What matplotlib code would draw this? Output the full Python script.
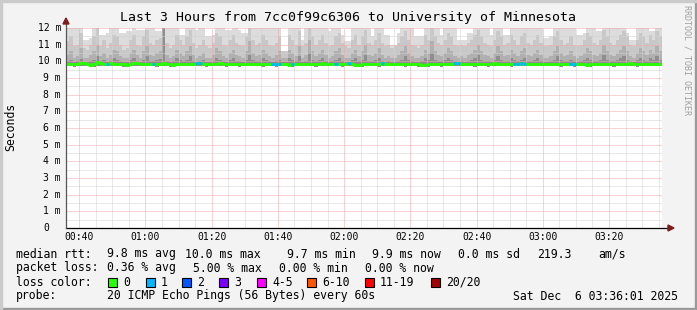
import matplotlib
matplotlib.use("Agg")
import matplotlib.pyplot as plt
import numpy as np
from matplotlib.patches import Rectangle, Polygon
from matplotlib.lines import Line2D

# ---------------- data ----------------
start_min = 36          # 00:36
n_cols = 180            # one column per minute
tick_minutes = [40, 60, 80, 100, 120, 140, 160, 180, 200]
tick_labels = ["00:40", "01:00", "01:20", "01:40", "02:00", "02:20", "02:40", "03:00", "03:20"]
y_values = list(range(0, 13))

median = [
 9.85,9.83,9.82,9.85,9.88,9.90,9.85,9.80,9.82,9.95,9.93,9.85,9.83,9.88,9.86,9.84,9.85,9.82,9.80,9.85,
 9.90,9.88,9.86,9.84,9.85,9.87,9.86,9.83,9.85,9.88,9.84,9.82,9.80,9.84,9.86,9.85,9.87,9.84,9.86,9.90,
 9.88,9.85,9.82,9.84,9.86,9.85,9.88,9.86,9.83,9.85,9.86,9.84,9.82,9.85,9.87,9.85,9.84,9.86,9.85,9.83,
 9.85,9.87,9.84,9.83,9.85,9.86,9.84,9.80,9.82,9.85,9.86,9.84,9.85,9.87,9.85,9.83,9.86,9.88,9.85,9.84,
 9.85,9.86,9.84,9.83,9.85,9.88,9.85,9.80,9.78,9.82,9.85,9.84,9.86,9.85,9.83,9.88,9.86,9.85,9.84,9.85,
 9.86,9.84,9.82,9.85,9.87,9.84,9.83,9.80,9.78,9.82,9.84,9.86,9.85,9.83,9.85,9.87,9.85,9.90,9.88,9.85,
 9.84,9.86,9.85,9.83,9.85,9.86,9.84,9.82,9.85,9.88,9.85,9.84,9.86,9.85,9.83,9.84,9.86,9.88,9.85,9.84,
 9.85,9.86,9.84,9.85,9.87,9.85,9.84,9.86,9.85,9.83,9.85,9.86,9.84,9.82,9.85,9.87,9.85,9.80,9.82,9.85,
 9.86,9.84,9.85,9.87,9.85,9.83,9.86,9.85,9.84,9.86,9.88,9.85,9.83,9.85,9.86,9.84,9.85,9.87,9.86,9.85,
]
loss_cols = [12, 26, 39, 40, 62, 63, 64, 68, 81, 85, 95, 117, 118, 135, 136, 137, 138, 152, 153]

smoke_lo = [
 9.70,9.70,9.68,9.70,9.72,9.70,9.70,9.66,9.68,9.72,9.72,9.70,9.70,9.72,9.70,9.70,9.70,9.68,9.66,9.70,
 9.72,9.72,9.70,9.70,9.70,9.72,9.70,9.68,9.70,9.72,9.70,9.68,9.66,9.70,9.72,9.70,9.72,9.70,9.70,9.72,
 9.72,9.70,9.68,9.70,9.70,9.70,9.72,9.70,9.68,9.70,9.70,9.70,9.68,9.70,9.72,9.70,9.70,9.70,9.70,9.68,
 9.70,9.72,9.70,9.68,9.70,9.70,9.70,9.66,9.68,9.70,9.70,9.70,9.70,9.72,9.70,9.68,9.70,9.72,9.70,9.70,
 9.70,9.70,9.70,9.68,9.70,9.72,9.70,9.66,9.64,9.68,9.70,9.70,9.70,9.70,9.68,9.72,9.70,9.70,9.70,9.70,
 9.70,9.70,9.68,9.70,9.72,9.70,9.68,9.66,9.64,9.68,9.70,9.70,9.70,9.68,9.70,9.72,9.70,9.72,9.72,9.70,
 9.70,9.70,9.70,9.68,9.70,9.70,9.70,9.68,9.70,9.72,9.70,9.70,9.70,9.70,9.68,9.70,9.70,9.72,9.70,9.70,
 9.70,9.70,9.70,9.70,9.72,9.70,9.70,9.70,9.70,9.68,9.70,9.70,9.70,9.68,9.70,9.72,9.70,9.66,9.68,9.70,
 9.70,9.70,9.70,9.72,9.70,9.68,9.70,9.70,9.70,9.70,9.72,9.70,9.68,9.70,9.70,9.70,9.70,9.72,9.70,9.70,
]
smoke_core = [
 10.05,10.10,9.98,10.02,10.15,9.98,9.98,10.05,10.10,10.30,10.05,10.10,9.98,10.05,10.20,10.10,10.02,9.98,9.98,10.10,
 10.20,10.05,9.98,10.10,10.30,10.02,10.02,10.10,10.12,12.00,10.05,9.98,10.02,10.20,10.10,10.02,10.10,10.30,10.05,9.98,
 10.02,10.10,9.98,9.98,10.05,10.20,10.10,10.02,9.98,10.10,10.20,10.05,10.02,9.98,10.10,10.40,10.10,10.02,10.05,10.20,
 10.10,10.02,9.98,10.05,10.10,9.98,9.98,10.20,10.10,10.02,10.30,9.98,10.05,10.50,10.10,10.02,10.10,10.20,10.05,9.98,
 10.02,10.10,10.20,10.05,9.98,9.98,10.10,10.20,10.02,10.10,10.40,10.05,10.02,10.10,10.20,10.05,9.98,10.02,9.98,9.98,
 10.05,10.10,10.30,10.10,10.02,9.98,9.98,10.02,10.20,10.10,10.50,10.10,10.05,10.02,10.10,10.20,10.10,10.02,9.98,10.02,
 9.98,10.05,10.10,10.20,10.40,10.10,10.05,10.02,9.98,10.10,10.30,10.10,10.02,10.05,10.20,10.10,10.02,10.10,10.20,10.05,
 10.02,10.10,10.20,10.05,9.98,9.98,10.02,10.10,10.30,10.10,10.02,10.05,10.10,10.02,9.98,10.02,10.10,10.20,10.10,10.05,
 10.02,10.10,10.40,10.10,10.05,10.02,10.10,10.20,10.30,10.10,10.02,9.98,10.10,10.20,10.10,10.05,10.20,10.10,10.30,10.10,
]
smoke_dark = [
 10.4,10.6,10.2,10.3,10.8,10.2,10.2,10.4,10.6,11.0,10.3,10.5,10.2,10.4,10.7,10.6,10.3,10.2,10.2,10.5,
 10.7,10.4,10.2,10.6,10.9,10.4,10.3,10.5,10.6,12.0,10.4,10.2,10.3,10.7,10.5,10.3,10.6,10.9,10.4,10.2,
 10.3,10.5,10.2,10.2,10.4,10.8,10.6,10.3,10.2,10.5,10.7,10.4,10.3,10.2,10.6,11.2,10.5,10.3,10.4,10.7,
 10.5,10.3,10.2,10.4,10.6,10.2,10.2,10.7,10.5,10.3,10.9,10.2,10.4,11.3,10.6,10.3,10.5,10.7,10.4,10.2,
 10.3,10.6,10.8,10.4,10.2,10.2,10.5,10.7,10.3,10.6,11.0,10.4,10.3,10.5,10.8,10.4,10.2,10.3,10.2,10.2,
 10.4,10.6,10.9,10.5,10.3,10.2,10.2,10.3,10.7,10.5,11.2,10.6,10.4,10.3,10.5,10.8,10.6,10.3,10.2,10.3,
 10.2,10.4,10.5,10.7,11.0,10.6,10.4,10.3,10.2,10.5,10.9,10.6,10.3,10.4,10.7,10.5,10.3,10.6,10.8,10.4,
 10.3,10.5,10.7,10.4,10.2,10.2,10.3,10.6,10.9,10.5,10.3,10.4,10.6,10.3,10.2,10.3,10.5,10.8,10.6,10.4,
 10.3,10.5,11.0,10.6,10.4,10.3,10.5,10.7,10.9,10.6,10.3,10.2,10.5,10.8,10.6,10.4,10.7,10.5,10.9,10.6,
]
smoke_mid = [
 11.2,11.5,10.9,11.0,11.7,10.8,10.7,11.0,11.5,12.0,10.9,11.3,10.8,11.1,11.6,11.5,11.0,10.7,10.8,11.3,
 11.6,11.0,10.9,11.5,11.9,11.1,11.0,11.3,11.4,12.0,11.1,10.8,11.0,11.6,11.3,11.0,11.5,11.9,11.1,10.8,
 11.0,11.3,10.9,10.8,11.1,11.7,11.5,11.0,10.9,11.3,11.6,11.1,11.0,10.9,11.5,12.0,11.3,11.0,11.1,11.6,
 11.3,11.0,10.9,11.1,11.5,10.6,10.6,11.6,11.3,11.0,11.8,10.9,11.1,12.0,11.5,11.0,11.3,11.6,11.1,10.9,
 11.0,11.5,11.7,11.1,10.9,10.8,11.3,11.6,11.0,11.5,11.9,11.1,11.0,11.3,11.7,11.1,10.9,11.0,10.8,10.9,
 11.1,11.5,11.8,11.3,11.0,10.9,10.8,11.0,11.6,11.3,12.0,11.5,11.1,11.0,11.3,11.7,11.5,11.0,10.9,11.0,
 10.9,11.1,11.3,11.6,11.9,11.5,11.1,11.0,10.9,11.3,11.8,11.5,11.0,11.1,11.6,11.3,11.0,11.5,11.7,11.1,
 11.0,11.3,11.6,11.1,10.9,10.9,11.0,11.5,11.8,11.3,11.0,11.1,11.5,11.0,10.9,11.0,11.3,11.7,11.5,11.1,
 11.0,11.3,11.9,11.5,11.1,11.0,11.3,11.6,11.8,11.5,11.0,10.9,11.3,11.7,11.5,11.1,11.6,11.3,11.8,11.5,
]
smoke_hi = [
 12.0,12.0,12.0,12.0,12.0,11.3,11.3,11.4,12.0,12.0,11.6,11.6,11.7,12.0,12.0,12.0,11.7,11.7,11.8,11.8,
 12.0,11.9,11.9,11.9,12.0,12.0,12.0,11.8,11.8,12.0,12.0,12.0,12.0,12.0,11.6,11.6,12.0,12.0,12.0,11.9,
 12.0,12.0,11.5,11.5,11.6,12.0,12.0,12.0,11.9,11.9,12.0,12.0,11.9,11.7,11.7,12.0,12.0,12.0,12.0,12.0,
 12.0,12.0,12.0,12.0,12.0,10.6,10.6,12.0,12.0,12.0,12.0,11.3,12.0,12.0,12.0,12.0,12.0,12.0,12.0,11.8,
 12.0,12.0,12.0,11.6,11.2,11.2,12.0,12.0,12.0,12.0,12.0,12.0,11.5,12.0,12.0,12.0,11.6,11.6,11.0,11.0,
 11.7,12.0,12.0,12.0,12.0,11.5,11.5,11.5,12.0,12.0,12.0,12.0,12.0,11.6,12.0,12.0,12.0,12.0,11.3,11.3,
 11.3,11.7,11.7,12.0,12.0,12.0,12.0,12.0,11.6,12.0,12.0,12.0,11.6,11.6,12.0,12.0,12.0,12.0,12.0,12.0,
 12.0,12.0,12.0,12.0,11.4,11.4,11.5,12.0,12.0,12.0,12.0,12.0,12.0,12.0,11.6,11.6,11.7,12.0,12.0,12.0,
 11.8,11.8,12.0,12.0,12.0,12.0,12.0,12.0,12.0,11.7,11.3,11.3,12.0,12.0,12.0,12.0,11.8,11.8,12.0,12.0,
]

legend_rtt = [("median rtt:", 16), ("9.8 ms avg", 107), ("10.0 ms max", 185), ("9.7 ms min", 287),
              ("9.9 ms now", 372), ("0.0 ms sd", 458), ("219.3", 537), ("am/s", 598)]
legend_loss = [("packet loss:", 16), ("0.36 % avg", 107), ("5.00 % max", 193),
               ("0.00 % min", 279), ("0.00 % now", 365)]
loss_labels = ["0", "1", "2", "3", "4-5", "6-10", "11-19", "20/20"]
loss_colors = ["#26ff00", "#00b8ff", "#0059ff", "#7e00ff", "#ff00ff", "#ff5500", "#ff0000", "#a10000"]
loss_box_x = [108, 146, 182, 219, 257, 307, 365, 431]
probe_text = "20 ICMP Echo Pings (56 Bytes) every 60s"
date_text = "Sat Dec  6 03:36:01 2025"
title = "Last 3 Hours from 7cc0f99c6306 to University of Minnesota"

# ---------------- figure ----------------
W, H = 697, 310
fig = plt.figure(figsize=(W / 100, H / 100), dpi=100)
fig.patch.set_facecolor("#F3F3F3")
MONO = "DejaVu Sans Mono"

def fx(x):
    return x / W

def fy(y):
    return 1 - y / H

# frame shading
fig.add_artist(Rectangle((0, 0), 1, 2 / H, transform=fig.transFigure, color="#9a9a9a", zorder=0))
fig.add_artist(Rectangle((1 - 2 / W, 0), 2 / W, 1, transform=fig.transFigure, color="#9a9a9a", zorder=0))
fig.add_artist(Rectangle((0, 1 - 2 / H), 1, 2 / H, transform=fig.transFigure, color="#cbcbcb", zorder=0))
fig.add_artist(Rectangle((0, 0), 2 / W, 1, transform=fig.transFigure, color="#cbcbcb", zorder=0))

ax = fig.add_axes([fx(66), fy(228), 596 / W, 200 / H])
ax.set_facecolor("white")
end_min = start_min + n_cols
ax.set_xlim(start_min, end_min)
ax.set_ylim(0, 12)
for s in ax.spines.values():
    s.set_visible(False)
ax.set_xticks([])
ax.set_yticks([])

t_edges = np.arange(start_min, end_min + 1)
def ext(a):
    a = list(a)
    return np.array(a + [a[-1]])

lo = ext(smoke_lo)
ax.fill_between(t_edges, lo, ext(smoke_hi), step="post", color="#dcdcdc", lw=0, zorder=1)
ax.fill_between(t_edges, lo, ext(smoke_mid), step="post", color="#c8c8c8", lw=0, zorder=2)
ax.fill_between(t_edges, lo, ext(smoke_dark), step="post", color="#b0b0b0", lw=0, zorder=3)
ax.fill_between(t_edges, lo, ext(smoke_core), step="post", color="#8e8e8e", lw=0, zorder=4)

# grid (drawn over smoke)
grid_minor = dict(color="#d2d2d2", lw=0.72, ls=(0, (1, 1)), zorder=5)
grid_major = dict(color="#f0a8a8", lw=0.72, ls=(0, (1, 1)), zorder=6)
for m in range(40, end_min, 5):
    if m not in tick_minutes:
        ax.axvline(m, **grid_minor)
for v in np.arange(0.5, 12, 1.0):
    ax.axhline(v, **grid_minor)
for m in tick_minutes:
    ax.axvline(m, **grid_major)
for v in y_values[1:]:
    ax.axhline(v, **grid_major)

# median line
ax.step(t_edges, ext(median), where="post", color=loss_colors[0], lw=2.0, zorder=8)
for c in loss_cols:
    ax.hlines(median[c], start_min + c, start_min + c + 1, color=loss_colors[1], lw=2.0, zorder=9)

# axes lines with arrows
arrow_col = "#7f1d1d"
fig.add_artist(Line2D([fx(66), fx(670)], [fy(228), fy(228)], transform=fig.transFigure, color="#000000", lw=0.9, zorder=10))
fig.add_artist(Line2D([fx(66), fx(66)], [fy(228), fy(24)], transform=fig.transFigure, color="#555555", lw=0.9, zorder=10))
fig.add_artist(Polygon([(fx(668), fy(225)), (fx(674), fy(228)), (fx(668), fy(231))], closed=True,
                       transform=fig.transFigure, color=arrow_col, zorder=11))
fig.add_artist(Polygon([(fx(63), fy(24)), (fx(66), fy(18)), (fx(69), fy(24))], closed=True,
                       transform=fig.transFigure, color=arrow_col, zorder=11))

# y labels
for v in y_values:
    y = 228 - v * (200 / 12)
    if v == 0:
        fig.text(fx(43), fy(y), "0", ha="left", va="center", fontsize=7, family=MONO)
    else:
        fig.text(fx(61), fy(y), f"{v} m", ha="right", va="center", fontsize=7, family=MONO)

# x labels
for m, lab in zip(tick_minutes, tick_labels):
    x = 66 + (m - start_min) * 596 / n_cols
    fig.text(fx(x), fy(237), lab, ha="center", va="center", fontsize=7, family=MONO)

# title and axis label
fig.text(fx(348), fy(18), title, ha="center", va="center", fontsize=9.5, family=MONO)
fig.text(fx(11), fy(127), "Seconds", ha="center", va="center", rotation=90, fontsize=8.3, family=MONO)
fig.text(fx(687), fy(5), "RRDTOOL / TOBI OETIKER", ha="center", va="top", rotation=270,
         fontsize=6, family=MONO, color="#a0a0a0")

# legend
LF = 8.3
for s, x in legend_rtt:
    fig.text(fx(x), fy(254), s, ha="left", va="center", fontsize=LF, family=MONO)
for s, x in legend_loss:
    fig.text(fx(x), fy(268), s, ha="left", va="center", fontsize=LF, family=MONO)
fig.text(fx(16), fy(282), "loss color:", ha="left", va="center", fontsize=LF, family=MONO)
for lab, col, x in zip(loss_labels, loss_colors, loss_box_x):
    fig.add_artist(Rectangle((fx(x), fy(286.5)), 8.5 / W, 8.5 / H, transform=fig.transFigure,
                             facecolor=col, edgecolor="black", lw=0.8, zorder=10))
    fig.text(fx(x + 15), fy(282), lab, ha="left", va="center", fontsize=LF, family=MONO)
fig.text(fx(16), fy(296), "probe:", ha="left", va="center", fontsize=LF, family=MONO)
fig.text(fx(107), fy(296), probe_text, ha="left", va="center", fontsize=LF, family=MONO)
fig.text(fx(513), fy(296), date_text, ha="left", va="center", fontsize=LF, family=MONO)

fig.savefig("out.png", dpi=100, facecolor=fig.get_facecolor())
